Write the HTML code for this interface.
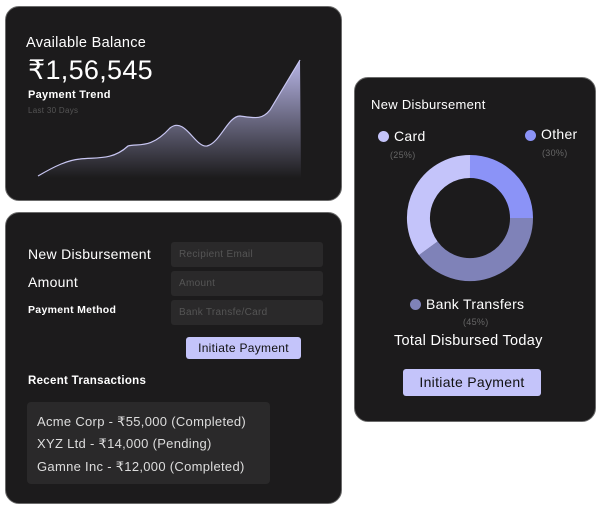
<!DOCTYPE html>
<html><head><meta charset="utf-8"><style>
body{margin:0;width:601px;height:511px;background:#fff;font-family:"Liberation Sans","DejaVu Sans",sans-serif;position:relative;overflow:hidden}
.card{position:absolute;background:#1c1b1c;border:1px solid #6b6b6b;border-radius:14px;box-sizing:border-box}
.t{position:absolute;color:#fff;white-space:nowrap;letter-spacing:0.3px}
.inp{position:absolute;left:171px;width:152px;height:25px;background:#2a292a;border-radius:3px;color:#555;font-size:10px;line-height:25px;padding-left:8px;box-sizing:border-box;letter-spacing:0.3px}
.btn{position:absolute;background:#c4c4fa;color:#111;border-radius:3px;text-align:center;letter-spacing:0.3px}
</style></head><body>
<div class="card" style="left:5px;top:6px;width:337px;height:195px"></div>
<div class="t" style="left:26px;top:35px;font-size:14.5px">Available Balance</div>
<div class="t" style="left:28px;top:55px;font-size:27px">₹1,56,545</div>
<div class="t" style="left:28px;top:89px;font-size:11px;font-weight:bold">Payment Trend</div>
<div class="t" style="left:28px;top:106px;font-size:8px;color:#555">Last 30 Days</div>
<svg style="position:absolute;left:0;top:0" width="345" height="210">
<defs><linearGradient id="g" x1="0" y1="0" x2="0" y2="1"><stop offset="0" stop-color="#b7b5e6"/><stop offset="1" stop-color="#1c1b1c"/></linearGradient></defs>
<path d="M38,176 C55,166 68,160 80,159 C95,157 112,161 128,146 C138,143 150,150 170,128 C185,116 195,148 207,146 C220,143 228,116 240,116 C255,118 262,120 270,110 L300,60 L301,178 L38,178 Z" fill="url(#g)"/>
<path d="M38,176 C55,166 68,160 80,159 C95,157 112,161 128,146 C138,143 150,150 170,128 C185,116 195,148 207,146 C220,143 228,116 240,116 C255,118 262,120 270,110 L300,60" fill="none" stroke="#c8c6f2" stroke-width="1.2"/>
</svg>

<div class="card" style="left:5px;top:212px;width:337px;height:292px"></div>
<div class="t" style="left:28px;top:246px;font-size:14px">New Disbursement</div>
<div class="t" style="left:28px;top:274px;font-size:14px">Amount</div>
<div class="t" style="left:28px;top:304px;font-size:10.5px;font-weight:bold">Payment Method</div>
<div class="inp" style="top:242px">Recipient Email</div>
<div class="inp" style="top:271px">Amount</div>
<div class="inp" style="top:300px">Bank Transfe/Card</div>
<div class="btn" style="left:186px;top:337px;width:115px;height:22px;line-height:22px;font-size:12px">Initiate Payment</div>
<div class="t" style="left:28px;top:375px;font-size:11.5px;font-weight:bold">Recent Transactions</div>
<div style="position:absolute;left:27px;top:402px;width:243px;height:82px;background:#2a292a;border-radius:4px"></div>
<div class="t" style="left:37px;top:414px;font-size:13px;color:#ddd">Acme Corp - ₹55,000 (Completed)</div>
<div class="t" style="left:37px;top:436px;font-size:13px;color:#ddd">XYZ Ltd - ₹14,000 (Pending)</div>
<div class="t" style="left:37px;top:459px;font-size:13px;color:#ddd">Gamne Inc - ₹12,000 (Completed)</div>

<div class="card" style="left:354px;top:77px;width:242px;height:345px"></div>
<div class="t" style="left:371px;top:97px;font-size:13px">New Disbursement</div>
<div style="position:absolute;left:378px;top:131px;width:11px;height:11px;border-radius:50%;background:#c4c4fa"></div>
<div class="t" style="left:394px;top:128px;font-size:14px">Card</div>
<div class="t" style="left:390px;top:150px;font-size:9px;color:#666">(25%)</div>
<div style="position:absolute;left:525px;top:130px;width:11px;height:11px;border-radius:50%;background:#8b93f7"></div>
<div class="t" style="left:541px;top:126px;font-size:14px">Other</div>
<div class="t" style="left:542px;top:148px;font-size:9px;color:#666">(30%)</div>
<svg style="position:absolute;left:0;top:0" width="601" height="511">
<g fill="none" stroke-width="23">
<path d="M470,166.5 A51.5,51.5 0 0 1 521.5,218" stroke="#8b93f7"/>
<path d="M521.5,218 A51.5,51.5 0 0 1 428.3,248.3" stroke="#7f82b8"/>
<path d="M428.3,248.3 A51.5,51.5 0 0 1 470,166.5" stroke="#c4c4fa"/>
</g></svg>
<div style="position:absolute;left:410px;top:299px;width:11px;height:11px;border-radius:50%;background:#7f82b8"></div>
<div class="t" style="left:426px;top:296px;font-size:14px">Bank Transfers</div>
<div class="t" style="left:463px;top:317px;font-size:9px;color:#666">(45%)</div>
<div class="t" style="left:394px;top:333px;font-size:14.5px">Total Disbursed Today</div>
<div class="btn" style="left:403px;top:369px;width:138px;height:27px;line-height:27px;font-size:14px">Initiate Payment</div>
</body></html>
